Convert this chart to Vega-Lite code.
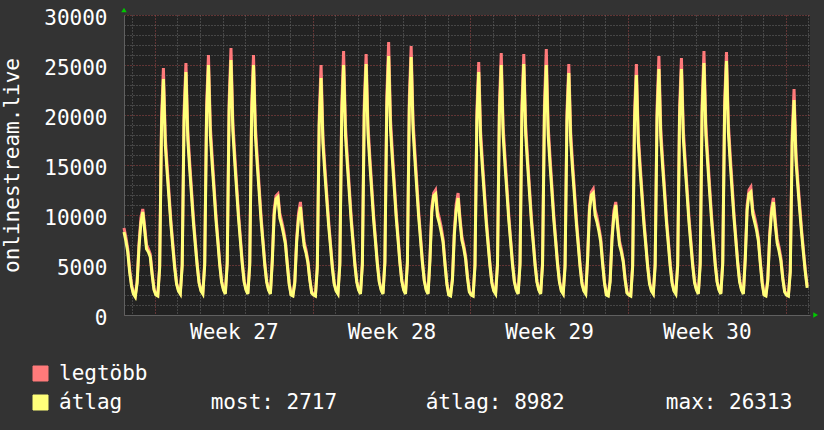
{
"$schema": "https://vega.github.io/schema/vega-lite/v6.json",
"width": 686, "height": 300,
"autosize": {"type": "none"},
"padding": {"left": 124, "top": 15, "right": 14, "bottom": 115},
"background": "#333333",
"config": {"view": {"fill": "#222222", "stroke": null}, "font": "DejaVu Sans Mono"},
"datasets": {
"rrd": [
{"t":-33,"a":8300,"m":8700},{"t":-31,"a":7400,"m":7800},{"t":-29,"a":6300,"m":6600},{"t":-27,"a":4300,"m":4600},{"t":-25,"a":2900,"m":3100},
{"t":-23,"a":2100,"m":2200},{"t":-21,"a":1800,"m":1900},{"t":-19,"a":3200,"m":3400},{"t":-17,"a":6800,"m":7200},{"t":-15,"a":9200,"m":9700},{"t":-13,"a":10300,"m":10600},{"t":-11,"a":8500,"m":8900},{"t":-9,"a":6600,"m":7000},{"t":-7,"a":6300,"m":6600},{"t":-5,"a":5800,"m":6100},{"t":-3,"a":4000,"m":4200},{"t":-1,"a":2500,"m":2600},
{"t":1,"a":2000,"m":2100},{"t":3,"a":1900,"m":2000},{"t":5,"a":4700,"m":4900},{"t":7,"a":18900,"m":19800},{"t":9,"a":23600,"m":24700},{"t":11,"a":17000,"m":17800},{"t":13,"a":14200,"m":14900},{"t":15,"a":11600,"m":12200},{"t":17,"a":9000,"m":9400},{"t":19,"a":6800,"m":7200},{"t":21,"a":4700,"m":5000},{"t":23,"a":3100,"m":3200},
{"t":25,"a":2400,"m":2500},{"t":27,"a":2100,"m":2200},{"t":29,"a":4900,"m":5100},{"t":31,"a":19400,"m":20400},{"t":33,"a":24300,"m":25200},{"t":35,"a":17500,"m":18400},{"t":37,"a":14600,"m":15300},{"t":39,"a":11900,"m":12500},{"t":41,"a":9200,"m":9700},{"t":43,"a":7000,"m":7400},{"t":45,"a":4900,"m":5100},{"t":47,"a":3200,"m":3300},
{"t":49,"a":2400,"m":2500},{"t":51,"a":2100,"m":2200},{"t":53,"a":5000,"m":5300},{"t":55,"a":20000,"m":21000},{"t":57,"a":25000,"m":26000},{"t":59,"a":18000,"m":18900},{"t":61,"a":15000,"m":15800},{"t":63,"a":12300,"m":12900},{"t":65,"a":9500,"m":10000},{"t":67,"a":7300,"m":7600},{"t":69,"a":5000,"m":5300},{"t":71,"a":3300,"m":3400},
{"t":73,"a":2500,"m":2600},{"t":75,"a":2100,"m":2200},{"t":77,"a":5100,"m":5400},{"t":79,"a":20400,"m":21400},{"t":81,"a":25500,"m":26700},{"t":83,"a":18400,"m":19300},{"t":85,"a":15300,"m":16100},{"t":87,"a":12500,"m":13100},{"t":89,"a":9700,"m":10200},{"t":91,"a":7400,"m":7800},{"t":93,"a":5100,"m":5400},{"t":95,"a":3300,"m":3500},
{"t":97,"a":2500,"m":2600},{"t":99,"a":2100,"m":2200},{"t":101,"a":5000,"m":5300},{"t":103,"a":20000,"m":21000},{"t":105,"a":25000,"m":26000},{"t":107,"a":18000,"m":18900},{"t":109,"a":15000,"m":15800},{"t":111,"a":12300,"m":12900},{"t":113,"a":9500,"m":10000},{"t":115,"a":7300,"m":7600},{"t":117,"a":5000,"m":5300},{"t":119,"a":3300,"m":3400},
{"t":121,"a":2500,"m":2600},{"t":123,"a":2100,"m":2200},{"t":125,"a":5300,"m":5600},{"t":127,"a":10000,"m":10500},{"t":129,"a":11600,"m":11900},{"t":131,"a":11800,"m":12100},{"t":133,"a":9700,"m":10200},{"t":135,"a":9000,"m":9400},{"t":137,"a":8100,"m":8500},{"t":139,"a":7100,"m":7400},{"t":141,"a":5000,"m":5200},{"t":143,"a":3100,"m":3200},
{"t":145,"a":2000,"m":2100},{"t":147,"a":1900,"m":2000},{"t":149,"a":3200,"m":3400},{"t":151,"a":7300,"m":7700},{"t":153,"a":9700,"m":10200},{"t":155,"a":10800,"m":11300},{"t":157,"a":8600,"m":9100},{"t":159,"a":6900,"m":7300},{"t":161,"a":6200,"m":6500},{"t":163,"a":5200,"m":5400},{"t":165,"a":3500,"m":3600},{"t":167,"a":2200,"m":2300},
{"t":169,"a":2000,"m":2100},{"t":171,"a":1900,"m":2000},{"t":173,"a":4700,"m":5000},{"t":175,"a":19000,"m":19900},{"t":177,"a":23700,"m":25000},{"t":179,"a":17100,"m":17900},{"t":181,"a":14200,"m":14900},{"t":183,"a":11600,"m":12200},{"t":185,"a":9000,"m":9500},{"t":187,"a":6900,"m":7200},{"t":189,"a":4700,"m":5000},{"t":191,"a":3100,"m":3200},
{"t":193,"a":2400,"m":2500},{"t":195,"a":2100,"m":2200},{"t":197,"a":5000,"m":5300},{"t":199,"a":20000,"m":21000},{"t":201,"a":25000,"m":26400},{"t":203,"a":18000,"m":18900},{"t":205,"a":15000,"m":15800},{"t":207,"a":12300,"m":12900},{"t":209,"a":9500,"m":10000},{"t":211,"a":7300,"m":7600},{"t":213,"a":5000,"m":5300},{"t":215,"a":3300,"m":3400},
{"t":217,"a":2500,"m":2600},{"t":219,"a":2100,"m":2200},{"t":221,"a":5000,"m":5300},{"t":223,"a":20100,"m":21100},{"t":225,"a":25100,"m":26100},{"t":227,"a":18100,"m":19000},{"t":229,"a":15100,"m":15800},{"t":231,"a":12300,"m":12900},{"t":233,"a":9500,"m":10000},{"t":235,"a":7300,"m":7600},{"t":237,"a":5000,"m":5300},{"t":239,"a":3300,"m":3400},
{"t":241,"a":2500,"m":2600},{"t":243,"a":2100,"m":2200},{"t":245,"a":5200,"m":5400},{"t":247,"a":20700,"m":21800},{"t":249,"a":25900,"m":27300},{"t":251,"a":18600,"m":19600},{"t":253,"a":15500,"m":16300},{"t":255,"a":12700,"m":13300},{"t":257,"a":9800,"m":10300},{"t":259,"a":7500,"m":7900},{"t":261,"a":5200,"m":5400},{"t":263,"a":3400,"m":3500},
{"t":265,"a":2500,"m":2600},{"t":267,"a":2100,"m":2200},{"t":269,"a":5200,"m":5400},{"t":271,"a":20600,"m":21700},{"t":273,"a":25800,"m":26900},{"t":275,"a":18600,"m":19500},{"t":277,"a":15500,"m":16300},{"t":279,"a":12600,"m":13300},{"t":281,"a":9800,"m":10300},{"t":283,"a":7500,"m":7900},{"t":285,"a":5200,"m":5400},{"t":287,"a":3400,"m":3500},
{"t":289,"a":2500,"m":2600},{"t":291,"a":2100,"m":2200},{"t":293,"a":5400,"m":5700},{"t":295,"a":10300,"m":10800},{"t":297,"a":11900,"m":12200},{"t":299,"a":12100,"m":12500},{"t":301,"a":9900,"m":10400},{"t":303,"a":9200,"m":9700},{"t":305,"a":8300,"m":8800},{"t":307,"a":7300,"m":7600},{"t":309,"a":5100,"m":5300},{"t":311,"a":3100,"m":3300},
{"t":313,"a":2000,"m":2100},{"t":315,"a":1900,"m":2000},{"t":317,"a":3500,"m":3700},{"t":319,"a":8000,"m":8400},{"t":321,"a":10500,"m":11100},{"t":323,"a":11700,"m":12200},{"t":325,"a":9400,"m":9800},{"t":327,"a":7500,"m":7900},{"t":329,"a":6700,"m":7000},{"t":331,"a":5600,"m":5900},{"t":333,"a":3700,"m":3900},{"t":335,"a":2300,"m":2400},
{"t":337,"a":2000,"m":2100},{"t":339,"a":1900,"m":2000},{"t":341,"a":4900,"m":5100},{"t":343,"a":19400,"m":20400},{"t":345,"a":24300,"m":25300},{"t":347,"a":17500,"m":18400},{"t":349,"a":14600,"m":15300},{"t":351,"a":11900,"m":12500},{"t":353,"a":9200,"m":9700},{"t":355,"a":7000,"m":7400},{"t":357,"a":4900,"m":5100},{"t":359,"a":3200,"m":3300},
{"t":361,"a":2400,"m":2500},{"t":363,"a":2100,"m":2200},{"t":365,"a":5000,"m":5300},{"t":367,"a":20000,"m":21000},{"t":369,"a":25000,"m":26200},{"t":371,"a":18000,"m":18900},{"t":373,"a":15000,"m":15800},{"t":375,"a":12300,"m":12900},{"t":377,"a":9500,"m":10000},{"t":379,"a":7300,"m":7600},{"t":381,"a":5000,"m":5300},{"t":383,"a":3300,"m":3400},
{"t":385,"a":2500,"m":2600},{"t":387,"a":2100,"m":2200},{"t":389,"a":5000,"m":5300},{"t":391,"a":20100,"m":21100},{"t":393,"a":25100,"m":26100},{"t":395,"a":18100,"m":19000},{"t":397,"a":15100,"m":15800},{"t":399,"a":12300,"m":12900},{"t":401,"a":9500,"m":10000},{"t":403,"a":7300,"m":7600},{"t":405,"a":5000,"m":5300},{"t":407,"a":3300,"m":3400},
{"t":409,"a":2500,"m":2600},{"t":411,"a":2100,"m":2200},{"t":413,"a":5000,"m":5300},{"t":415,"a":20000,"m":21000},{"t":417,"a":25000,"m":26600},{"t":419,"a":18000,"m":18900},{"t":421,"a":15000,"m":15800},{"t":423,"a":12300,"m":12900},{"t":425,"a":9500,"m":10000},{"t":427,"a":7300,"m":7600},{"t":429,"a":5000,"m":5300},{"t":431,"a":3300,"m":3400},
{"t":433,"a":2400,"m":2500},{"t":435,"a":2100,"m":2200},{"t":437,"a":4800,"m":5100},{"t":439,"a":19400,"m":20300},{"t":441,"a":24200,"m":25100},{"t":443,"a":17400,"m":18300},{"t":445,"a":14500,"m":15200},{"t":447,"a":11900,"m":12500},{"t":449,"a":9200,"m":9700},{"t":451,"a":7000,"m":7400},{"t":453,"a":4800,"m":5100},{"t":455,"a":3100,"m":3300},
{"t":457,"a":2400,"m":2500},{"t":459,"a":2100,"m":2200},{"t":461,"a":5500,"m":5800},{"t":463,"a":10400,"m":10900},{"t":465,"a":12000,"m":12300},{"t":467,"a":12200,"m":12600},{"t":469,"a":10000,"m":10500},{"t":471,"a":9300,"m":9800},{"t":473,"a":8400,"m":8800},{"t":475,"a":7300,"m":7700},{"t":477,"a":5100,"m":5400},{"t":479,"a":3200,"m":3300},
{"t":481,"a":2000,"m":2100},{"t":483,"a":1900,"m":2000},{"t":485,"a":3300,"m":3500},{"t":487,"a":7500,"m":7900},{"t":489,"a":9900,"m":10400},{"t":491,"a":11000,"m":11300},{"t":493,"a":8800,"m":9200},{"t":495,"a":7000,"m":7400},{"t":497,"a":6300,"m":6600},{"t":499,"a":5300,"m":5500},{"t":501,"a":3500,"m":3700},{"t":503,"a":2200,"m":2300},
{"t":505,"a":2000,"m":2100},{"t":507,"a":1900,"m":2000},{"t":509,"a":4800,"m":5000},{"t":511,"a":19200,"m":20200},{"t":513,"a":24000,"m":25100},{"t":515,"a":17300,"m":18100},{"t":517,"a":14400,"m":15100},{"t":519,"a":11800,"m":12300},{"t":521,"a":9100,"m":9600},{"t":523,"a":7000,"m":7300},{"t":525,"a":4800,"m":5000},{"t":527,"a":3100,"m":3300},
{"t":529,"a":2400,"m":2500},{"t":531,"a":2100,"m":2200},{"t":533,"a":4900,"m":5200},{"t":535,"a":19700,"m":20700},{"t":537,"a":24600,"m":25900},{"t":539,"a":17700,"m":18600},{"t":541,"a":14800,"m":15500},{"t":543,"a":12100,"m":12700},{"t":545,"a":9300,"m":9800},{"t":547,"a":7100,"m":7500},{"t":549,"a":4900,"m":5200},{"t":551,"a":3200,"m":3400},
{"t":553,"a":2400,"m":2500},{"t":555,"a":2100,"m":2200},{"t":557,"a":4900,"m":5200},{"t":559,"a":19700,"m":20700},{"t":561,"a":24600,"m":25700},{"t":563,"a":17700,"m":18600},{"t":565,"a":14800,"m":15500},{"t":567,"a":12100,"m":12700},{"t":569,"a":9300,"m":9800},{"t":571,"a":7100,"m":7500},{"t":573,"a":4900,"m":5200},{"t":575,"a":3200,"m":3400},
{"t":577,"a":2500,"m":2600},{"t":579,"a":2100,"m":2200},{"t":581,"a":5000,"m":5300},{"t":583,"a":20200,"m":21200},{"t":585,"a":25200,"m":26400},{"t":587,"a":18100,"m":19100},{"t":589,"a":15100,"m":15900},{"t":591,"a":12300,"m":13000},{"t":593,"a":9600,"m":10100},{"t":595,"a":7300,"m":7700},{"t":597,"a":5000,"m":5300},{"t":599,"a":3300,"m":3400},
{"t":601,"a":2500,"m":2600},{"t":603,"a":2100,"m":2200},{"t":605,"a":5100,"m":5300},{"t":607,"a":20300,"m":21300},{"t":609,"a":25400,"m":26300},{"t":611,"a":18300,"m":19200},{"t":613,"a":15200,"m":16000},{"t":615,"a":12400,"m":13100},{"t":617,"a":9700,"m":10100},{"t":619,"a":7400,"m":7700},{"t":621,"a":5100,"m":5300},{"t":623,"a":3300,"m":3500},
{"t":625,"a":2500,"m":2600},{"t":627,"a":2100,"m":2200},{"t":629,"a":5500,"m":5800},{"t":631,"a":10500,"m":11000},{"t":633,"a":12100,"m":12500},{"t":635,"a":12300,"m":12800},{"t":637,"a":10100,"m":10600},{"t":639,"a":9300,"m":9800},{"t":641,"a":8500,"m":8900},{"t":643,"a":7400,"m":7700},{"t":645,"a":5200,"m":5400},{"t":647,"a":3200,"m":3400},
{"t":649,"a":2000,"m":2100},{"t":651,"a":1900,"m":2000},{"t":653,"a":3400,"m":3600},{"t":655,"a":7700,"m":8100},{"t":657,"a":10200,"m":10700},{"t":659,"a":11300,"m":11700},{"t":661,"a":9000,"m":9500},{"t":663,"a":7200,"m":7600},{"t":665,"a":6400,"m":6800},{"t":667,"a":5400,"m":5700},{"t":669,"a":3600,"m":3800},{"t":671,"a":2300,"m":2400},
{"t":673,"a":2000,"m":2100},{"t":675,"a":1900,"m":2000},{"t":677,"a":4300,"m":4500},{"t":679,"a":17200,"m":18100},{"t":681,"a":21500,"m":22600},{"t":683,"a":15500,"m":16300},{"t":685,"a":12900,"m":13500},{"t":687,"a":10500,"m":11100},{"t":689,"a":8200,"m":8600},{"t":691,"a":6200,"m":6500},{"t":693,"a":4300,"m":4500},{"t":695,"a":2717,"m":2900}
],
"arrows": [{"t": -33, "value": 30500, "s": "triangle-up"}, {"t": 704, "value": 0, "s": "triangle-right"}]
},
"encoding": {
"x": {"field": "t", "type": "quantitative",
 "scale": {"domain": [-33, 698], "nice": false, "zero": false},
 "axis": {"title": null,
  "values": [-24,0,24,48,72,96,120,144,168,192,216,240,264,288,312,336,360,384,408,432,456,480,504,528,552,576,600,624,648,672,696,84,252,420,588],
  "labelExpr": "datum.value === 84 ? 'Week 27' : datum.value === 252 ? 'Week 28' : datum.value === 420 ? 'Week 29' : datum.value === 588 ? 'Week 30' : ''",
  "labelOverlap": false, "labelFlush": false,
  "labelFont": "DejaVu Sans Mono", "labelFontSize": 21, "labelColor": "#ffffff", "labelPadding": 6,
  "ticks": false, "domain": true, "domainColor": "#606060", "domainWidth": 1,
  "grid": true, "gridDash": [1, 2], "gridWidth": 1,
  "gridColor": {"condition": {"test": "datum.value % 168 === 0", "value": "#a04848"}, "value": "#6a6a6a"},
  "gridOpacity": {"condition": {"test": "datum.value % 24 !== 0", "value": 0}, "value": 1}
 }},
"y": {"field": "value", "type": "quantitative",
 "scale": {"domain": [0, 30000], "nice": false},
 "axis": {"title": "onlinestream.live",
  "values": [0,1000,2000,3000,4000,5000,6000,7000,8000,9000,10000,11000,12000,13000,14000,15000,16000,17000,18000,19000,20000,21000,22000,23000,24000,25000,26000,27000,28000,29000,30000],
  "format": "d",
  "labelExpr": "datum.value % 5000 === 0 ? datum.label : ''",
  "labelOverlap": false, "labelFlush": false,
  "labelFont": "DejaVu Sans Mono", "labelFontSize": 21, "labelColor": "#ffffff", "labelPadding": 17, "labelOffset": 3,
  "ticks": false, "domain": true, "domainColor": "#606060", "domainWidth": 1,
  "grid": true, "gridDash": [1, 2], "gridWidth": 1,
  "gridColor": {"condition": {"test": "datum.value % 5000 === 0", "value": "#a04848"}, "value": "#6a6a6a"},
  "titleFont": "DejaVu Sans Mono", "titleFontSize": 21, "titleFontWeight": "normal", "titleColor": "#ffffff",
  "titleAngle": 270, "titleX": -112, "titleY": 150, "titleAlign": "center", "titleBaseline": "middle"
 }}
},
"layer": [
{
"data": {"name": "rrd"},
"transform": [{"fold": ["m", "a"], "as": ["key", "value"]}],
"mark": {"type": "line", "strokeWidth": 3, "interpolate": "linear"},
"encoding": {
"color": {"field": "key", "type": "nominal",
 "scale": {"domain": ["m", "a"], "range": ["#ff7a7a", "#ffff7a"]},
 "legend": {"title": null, "orient": "none", "legendX": -94, "legendY": 348, "direction": "vertical", "padding": 0,
  "symbolType": "square", "symbolSize": 225, "symbolStrokeColor": "#000000", "symbolStrokeWidth": 1,
  "labelFont": "DejaVu Sans Mono", "labelFontSize": 21, "labelColor": "#ffffff", "labelOffset": 8, "labelLimit": 900, "rowPadding": 7,
  "labelExpr": "datum.value === 'm' ? 'legtöbb' : 'átlag\u00a0\u00a0\u00a0\u00a0\u00a0\u00a0\u00a0most: 2717\u00a0\u00a0\u00a0\u00a0\u00a0\u00a0\u00a0átlag: 8982\u00a0\u00a0\u00a0\u00a0\u00a0\u00a0\u00a0\u00a0max: 26313'",
  "encode": {"symbols": {"update": {"fill": {"scale": "color", "field": "value"}, "stroke": {"value": "#000000"}, "strokeWidth": {"value": 1}, "shape": {"value": "square"}, "size": {"value": 225}, "opacity": {"value": 1}}}}
 }}
}
},
{
"data": {"name": "arrows"},
"mark": {"type": "point", "filled": true, "color": "#00c800", "size": 30, "opacity": 1},
"encoding": {
"shape": {"field": "s", "type": "nominal", "scale": null}
}
}
]
}
